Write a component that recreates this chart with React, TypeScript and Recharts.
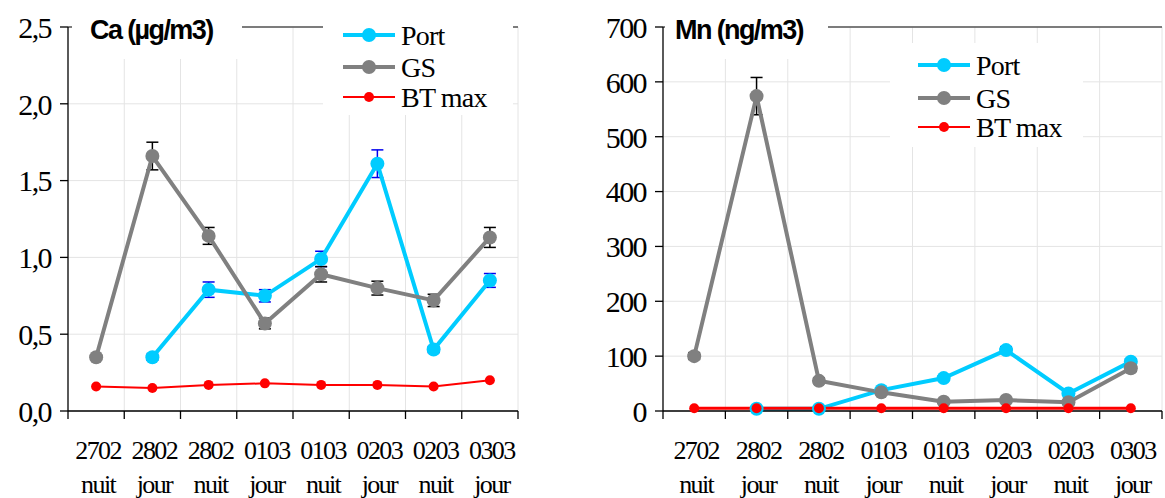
import React from 'react';
import { LineChart, Line, XAxis, YAxis, CartesianGrid, ErrorBar, Legend, ReferenceLine } from 'recharts';

const categories = ['2702 nuit', '2802 jour', '2802 nuit', '0103 jour', '0103 nuit', '0203 jour', '0203 nuit', '0303 jour'];

// Ca (µg/m3)
const caPort = [null, 0.35, 0.79, 0.75, 0.99, 1.61, 0.4, 0.85];
const caPortErr = [0, 0.02, 0.05, 0.04, 0.05, 0.09, 0.02, 0.045];
const caGS = [0.35, 1.66, 1.14, 0.57, 0.89, 0.8, 0.72, 1.13];
const caGSErr = [0.015, 0.09, 0.055, 0.035, 0.05, 0.045, 0.04, 0.065];
const caBT = [0.16, 0.15, 0.17, 0.18, 0.17, 0.17, 0.16, 0.2];
const caTicks = [0, 0.5, 1, 1.5, 2, 2.5];

// Mn (ng/m3)
const mnPort = [null, 4, 4, 38, 60, 111, 32, 90];
const mnPortErr = [0, 2, 2, 3, 4, 6, 3, 5];
const mnGS = [100, 574, 55, 34, 17, 20, 16, 78];
const mnGSErr = [6, 34, 5, 4, 3, 3, 3, 6];
const mnBT = [5, 5, 5, 5, 5, 5, 5, 5];
const mnTicks = [0, 100, 200, 300, 400, 500, 600, 700];

const PORT_C = '#00CCFF';
const GS_C = '#808080';
const BT_C = '#FF0000';
const SERIF = '"Liberation Serif", "Times New Roman", serif';
const SANS = '"Liberation Sans", Arial, sans-serif';

const legendItems = [
  { name: 'Port', color: PORT_C, w: 4, r: 7 },
  { name: 'GS', color: GS_C, w: 4, r: 7 },
  { name: 'BT max', color: BT_C, w: 2, r: 5 },
];

const buildRows = (port: (number | null)[], portErr: number[], gs: number[], gsErr: number[], bt: number[]) =>
  categories.map((cat, i) => ({
    cat,
    port: port[i],
    portErr: portErr[i],
    gs: gs[i],
    gsErr: gsErr[i],
    bt: bt[i],
  }));

const caRows = buildRows(caPort, caPortErr, caGS, caGSErr, caBT);
const mnRows = buildRows(mnPort, mnPortErr, mnGS, mnGSErr, mnBT);

const CatTick = (props: any) => {
  const { x, y, payload, index, band } = props;
  const [day, part] = String(payload.value).split(' ');
  const y0 = y - 8;
  return (
    <g>
      <line x1={x - band / 2} x2={x - band / 2} y1={y0} y2={y0 + 8} stroke="#000" strokeWidth={1.3} />
      {index === categories.length - 1 && (
        <line x1={x + band / 2} x2={x + band / 2} y1={y0} y2={y0 + 8} stroke="#000" strokeWidth={1.3} />
      )}
      <text x={x} y={y0} textAnchor="middle" style={{ fontFamily: SERIF, fontSize: 26, letterSpacing: -1.6 }} fill="#000">
        <tspan x={x + 2} dy={48}>{day}</tspan>
        <tspan x={x + 2} dy={34}>{part}</tspan>
      </text>
    </g>
  );
};

const YTick = (props: any) => {
  const { x, y, payload, fmt } = props;
  return (
    <text x={x} y={y} dy="0.36em" textAnchor="end" style={{ fontFamily: SERIF, fontSize: 30, letterSpacing: -1.6 }} fill="#000">
      {fmt(payload.value)}
    </text>
  );
};

const LegendBox = ({ lineX, rowY }: { lineX: number; rowY: number[] }) => (
  <svg width="100%" height="100%">
    {legendItems.map((it, i) => (
      <g key={it.name}>
        <line x1={lineX} x2={lineX + 52} y1={rowY[i]} y2={rowY[i]} stroke={it.color} strokeWidth={it.w} />
        <circle cx={lineX + 26} cy={rowY[i]} r={it.r} fill={it.color} />
        <text x={lineX + 58} y={rowY[i]} dy="0.35em" style={{ fontFamily: SERIF, fontSize: 28, letterSpacing: -0.8 }} fill="#000">
          {it.name}
        </text>
      </g>
    ))}
  </svg>
);

interface PanelProps {
  left: number;
  width: number;
  yAxisW: number;
  rightM: number;
  rows: any[];
  yTicks: number[];
  fmt: (v: number) => string;
  btWidth: number;
  title: string;
  titleBox: { left: number; width: number; textLeft: number };
  legendBox: { left: number; top: number; width: number; height: number; lineX: number; rowY: number[] };
}

const Panel = ({ left, width, yAxisW, rightM, rows, yTicks, fmt, btWidth, title, titleBox, legendBox }: PanelProps) => {
  const height = 498;
  const plotW = width - yAxisW - rightM;
  const band = plotW / categories.length;
  const yMax = yTicks[yTicks.length - 1];
  return (
    <div style={{ position: 'absolute', left, top: 0, width, height, fontFamily: SERIF }}>
      <LineChart width={width} height={height} data={rows} margin={{ top: 27, right: rightM, left: 0, bottom: 0 }}>
        <CartesianGrid
          stroke="#e4e4e4"
          strokeWidth={1}
          verticalCoordinatesGenerator={({ offset }: any) =>
            categories.map((_, i) => offset.left + (i + 1) * (offset.width / categories.length))
          }
        />
        <XAxis
          dataKey="cat"
          scale="band"
          interval={0}
          height={87}
          tickSize={8}
          tickMargin={0}
          tickLine={false}
          axisLine={{ stroke: '#000', strokeWidth: 1.3 }}
          tick={<CatTick band={band} />}
        />
        <YAxis
          type="number"
          domain={[0, yMax]}
          ticks={yTicks}
          width={yAxisW}
          tickSize={8}
          tickMargin={9}
          interval={0}
          axisLine={{ stroke: '#000', strokeWidth: 1.3 }}
          tickLine={{ stroke: '#000', strokeWidth: 1.3 }}
          tick={<YTick fmt={fmt} />}
        />
        <YAxis
          yAxisId="frame"
          orientation="right"
          type="number"
          domain={[0, yMax]}
          width={0}
          tick={false}
          tickLine={false}
          axisLine={{ stroke: '#555', strokeWidth: 1.3 }}
        />
        <ReferenceLine y={yMax} stroke="#555" strokeWidth={1.3} />
        <Line
          dataKey="port"
          stroke={PORT_C}
          strokeWidth={4}
          dot={{ r: 7, fill: PORT_C, stroke: PORT_C, strokeWidth: 0 }}
          activeDot={false}
          isAnimationActive={false}
        >
          <ErrorBar dataKey="portErr" width={6} stroke="#0000EE" strokeWidth={1.5} direction="y" isAnimationActive={false} />
        </Line>
        <Line
          dataKey="gs"
          stroke={GS_C}
          strokeWidth={4}
          dot={{ r: 7, fill: GS_C, stroke: GS_C, strokeWidth: 0 }}
          activeDot={false}
          isAnimationActive={false}
        >
          <ErrorBar dataKey="gsErr" width={6} stroke="#000" strokeWidth={1.5} direction="y" isAnimationActive={false} />
        </Line>
        <Line
          dataKey="bt"
          stroke={BT_C}
          strokeWidth={btWidth}
          dot={{ r: 5, fill: BT_C, stroke: BT_C, strokeWidth: 0 }}
          activeDot={false}
          isAnimationActive={false}
        />
        <Legend
          layout="horizontal"
          verticalAlign="middle"
          align="center"
          content={() => <LegendBox lineX={legendBox.lineX} rowY={legendBox.rowY} />}
          wrapperStyle={{
            left: legendBox.left,
            top: legendBox.top,
            width: legendBox.width,
            height: legendBox.height,
            background: '#fff',
          }}
        />
      </LineChart>
      <div
        style={{
          position: 'absolute',
          left: titleBox.left,
          top: 8,
          width: titleBox.width,
          height: 51,
          background: '#fff',
        }}
      >
        <div
          style={{
            position: 'absolute',
            left: titleBox.textLeft,
            top: 7,
            fontFamily: SANS,
            fontWeight: 'bold',
            fontSize: 27,
            letterSpacing: -1.6,
            lineHeight: '30px',
            whiteSpace: 'nowrap',
          }}
        >
          {title}
        </div>
      </div>
    </div>
  );
};

export default function App() {
  return (
    <div style={{ position: 'absolute', left: 0, top: 0, width: 1165, height: 498, background: '#fff', overflow: 'hidden' }}>
      <Panel
        left={0}
        width={530}
        yAxisW={68}
        rightM={12}
        rows={caRows}
        yTicks={caTicks}
        fmt={(v) => v.toFixed(1).replace('.', ',')}
        btWidth={2}
        title="Ca (µg/m3)"
        titleBox={{ left: 72, width: 170, textLeft: 18 }}
        legendBox={{ left: 323, top: 18, width: 190, height: 97, lineX: 20, rowY: [17, 49, 79] }}
      />
      <Panel
        left={580}
        width={585}
        yAxisW={83}
        rightM={3}
        rows={mnRows}
        yTicks={mnTicks}
        fmt={(v) => String(v)}
        btWidth={3}
        title="Mn (ng/m3)"
        titleBox={{ left: 85, width: 163, textLeft: 10 }}
        legendBox={{ left: 310, top: 43, width: 193, height: 104, lineX: 28, rowY: [22, 55, 84] }}
      />
    </div>
  );
}
